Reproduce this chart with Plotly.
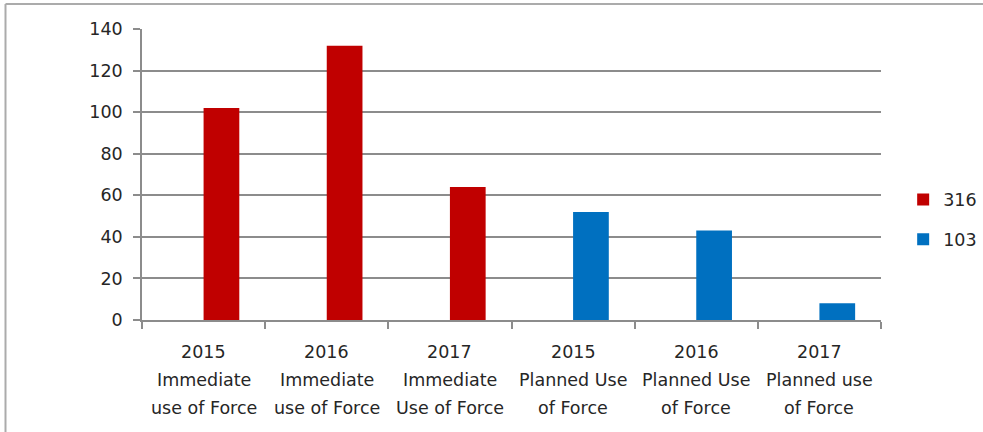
import plotly.graph_objects as go

# ---- data ----
categories = [
    "2015 Immediate use of Force",
    "2016 Immediate use of Force",
    "2017 Immediate Use of Force",
    "2015 Planned Use of Force",
    "2016 Planned Use of Force",
    "2017 Planned use of Force",
]
category_lines = [
    ["2015", "Immediate", "use of Force"],
    ["2016", "Immediate", "use of Force"],
    ["2017", "Immediate", "Use of Force"],
    ["2015", "Planned Use", "of Force"],
    ["2016", "Planned Use", "of Force"],
    ["2017", "Planned use", "of Force"],
]
series_names = ["316", "103"]
red_categories = categories[:3]
red_values = [102, 132, 64]
blue_categories = categories[3:]
blue_values = [52, 43, 8]
y_ticks = [0, 20, 40, 60, 80, 100, 120, 140]

FONT = "DejaVu Sans"
TEXT = "#262626"
FS = 17.5

fig = go.Figure()
fig.add_trace(go.Bar(
    x=red_categories, y=red_values, name=series_names[0],
    marker=dict(color="#C00000", line=dict(width=0)),
    offset=0, width=0.29, legendgroup="a",
))
fig.add_trace(go.Bar(
    x=blue_categories, y=blue_values, name=series_names[1],
    marker=dict(color="#0070C0", line=dict(width=0)),
    offset=0, width=0.29, legendgroup="b",
))

annotations = []
for cat, lines in zip(categories, category_lines):
    for j, line in enumerate(lines):
        annotations.append(dict(
            x=cat, y=0, xref="x", yref="y", text=line, showarrow=False,
            yanchor="middle", xanchor="center", yshift=-(32 + 28 * j),
            font=dict(family=FONT, size=FS, color=TEXT),
        ))

border = dict(color="#ababab", width=2)
fig.update_layout(
    width=983, height=432,
    margin=dict(l=142, r=102, t=29, b=112, autoexpand=False),
    paper_bgcolor="white", plot_bgcolor="white",
    barmode="group",
    font=dict(family=FONT, size=FS, color=TEXT),
    showlegend=True,
    legend=dict(
        x=1.03, y=0.345, xanchor="left", yanchor="middle",
        font=dict(family=FONT, size=FS, color=TEXT),
        traceorder="grouped", tracegroupgap=14,
        bgcolor="rgba(0,0,0,0)",
    ),
    annotations=annotations,
    shapes=[
        dict(type="line", xref="paper", yref="paper",
             x0=-0.1847, x1=1.14, y0=1.0859, y1=1.0859, line=border),
        dict(type="line", xref="paper", yref="paper",
             x0=-0.1847, x1=-0.1847, y0=1.0859, y1=-0.39, line=border),
    ],
)
fig.update_xaxes(
    type="category", categoryorder="array", categoryarray=categories,
    range=[-0.5, 5.5],
    showticklabels=False, showgrid=False,
    showline=True, linecolor="#8c8c8c", linewidth=1.5,
    ticks="outside", tickson="boundaries", ticklen=7,
    tickcolor="#8c8c8c", tickwidth=1.5,
)
fig.update_yaxes(
    range=[0, 140], tickvals=y_ticks,
    showgrid=True, gridcolor="#8c8c8c", gridwidth=1.5,
    showline=True, linecolor="#8c8c8c", linewidth=1.5,
    ticks="outside", ticklen=7, tickcolor="#8c8c8c", tickwidth=1.5,
    tickfont=dict(family=FONT, size=FS, color=TEXT),
    ticklabelstandoff=7, zeroline=False,
)

fig.write_html(
    "out.html",
    config={"displayModeBar": False},
    post_script="document.body.style.margin='0';document.body.style.padding='0';",
)
